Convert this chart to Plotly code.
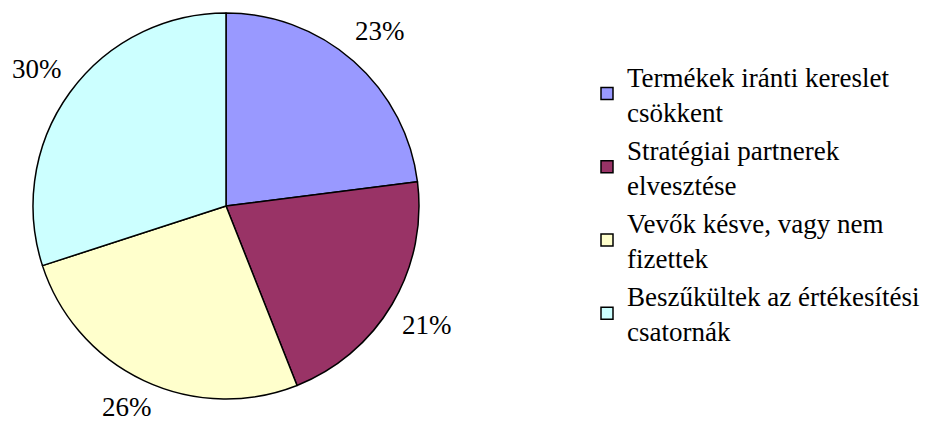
import math
import plotly.graph_objects as go

# Shares of reasons, clockwise from 12 o'clock
labels = [
    "Termékek iránti kereslet<br>csökkent",
    "Stratégiai partnerek<br>elvesztése",
    "Vevők késve, vagy nem<br>fizettek",
    "Beszűkültek az értékesítési<br>csatornák",
]
values = [23, 21, 26, 30]
colors = ["#9999FF", "#993366", "#FFFFCC", "#CCFFFF"]

W, H = 929, 426
serif = "Liberation Serif, Times New Roman, serif"
label_size = 27

# pie placement in pixels
cx, cy, R = 226, 206, 193
dom_x = [(cx - R) / W, (cx + R) / W]
dom_y = [(H - cy - R) / H, (H - cy + R) / H]

fig = go.Figure(
    go.Pie(
        labels=labels,
        values=values,
        sort=False,
        direction="clockwise",
        rotation=0,
        marker=dict(colors=colors, line=dict(color="black", width=1.5)),
        textinfo="none",
        domain=dict(x=dom_x, y=dom_y),
        hoverinfo="label+percent",
    )
)

# percentage labels set out beyond the rim, at each slice's mid angle,
# kept inside the canvas
total = sum(values)
cum = 0
label_r = R * 1.21
half_box = label_size * 0.7
for v in values:
    mid = (cum + v / 2) / total * 2 * math.pi
    cum += v
    px = cx + label_r * math.sin(mid)
    py = cy - label_r * math.cos(mid)
    py = min(max(py, half_box), H - half_box)
    fig.add_annotation(
        x=px / W,
        y=1 - py / H,
        xref="paper",
        yref="paper",
        text=f"{round(v / total * 100)}%",
        showarrow=False,
        xanchor="center",
        yanchor="middle",
        font=dict(family=serif, size=label_size, color="black"),
    )

fig.update_layout(
    width=W,
    height=H,
    margin=dict(l=0, r=0, t=0, b=0),
    paper_bgcolor="white",
    showlegend=True,
    legend=dict(
        x=587 / W,
        xanchor="left",
        y=1 - 52 / H,
        yanchor="top",
        font=dict(family=serif, size=27, color="black"),
        bgcolor="rgba(0,0,0,0)",
    ),
)

fig.write_html("out.html")
